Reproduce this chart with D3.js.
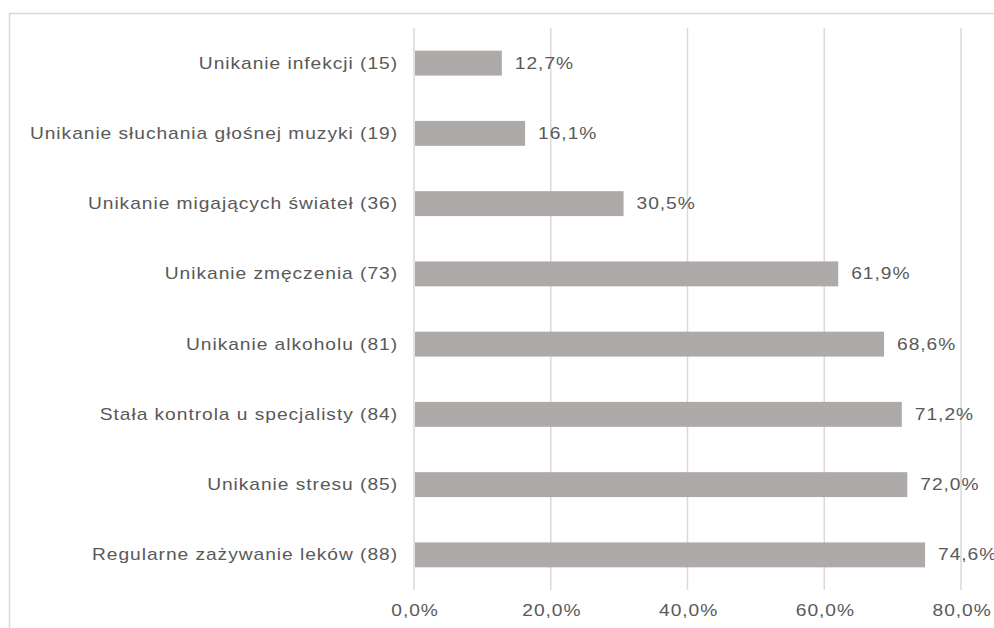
<!DOCTYPE html>
<head>
<meta charset="utf-8">
<style>
  body { margin: 0; background: #fff; }
  .axis text, .label, .value {
    font-family: "Liberation Sans", Arial, sans-serif;
    font-size: 16px;
    fill: #595959;
    letter-spacing: 0.8px;
  }
</style>
</head>
<body>
<div class="chart"></div>
<script src="https://d3js.org/d3.v7.min.js"></script>
<script>

// categories top to bottom
var categories = [
  "Unikanie infekcji (15)",
  "Unikanie słuchania głośnej muzyki (19)",
  "Unikanie migających świateł (36)",
  "Unikanie zmęczenia (73)",
  "Unikanie alkoholu (81)",
  "Stała kontrola u specjalisty (84)",
  "Unikanie stresu (85)",
  "Regularne zażywanie leków (88)"
];
var values = [12.7, 16.1, 30.5, 61.9, 68.6, 71.2, 72.0, 74.6];
var ticks = [0, 20, 40, 60, 80];

var width = 994, height = 628;
var margin = {top: 28, right: 33, bottom: 38, left: 414};
var sx = 1.2; // the source text looks stretched sideways

var svg = d3.select(".chart").append("svg")
  .attr("width", width)
  .attr("height", height);

// outer frame (runs off the right and bottom edge)
svg.append("rect")
  .attr("x", 9.5).attr("y", 13.5)
  .attr("width", width).attr("height", height)
  .attr("fill", "none")
  .attr("stroke", "#d9d9d9")
  .attr("stroke-width", 1.5);

var g = svg.append("g")
  .attr("transform", "translate(" + margin.left + "," + margin.top + ")");

var w = 961 - margin.left;
var h = 590 - margin.top;

var x = d3.scaleLinear().domain([0, 80]).range([0, w]);
var y = d3.scaleBand().domain(categories).range([0, h]).paddingInner(0.645).paddingOuter(0.3225);

var fmt = function(v) { return v.toFixed(1).replace(".", ",") + "%"; };

// gridlines
g.selectAll(".grid").data(ticks).enter().append("line")
  .attr("class", "grid")
  .attr("x1", function(d) { return x(d); })
  .attr("x2", function(d) { return x(d); })
  .attr("y1", 0).attr("y2", h)
  .attr("stroke", "#d9d9d9")
  .attr("stroke-width", 1.5);

// bars
g.selectAll(".bar").data(values).enter().append("rect")
  .attr("class", "bar")
  .attr("x", x(0) + 1)
  .attr("y", function(d, i) { return y(categories[i]); })
  .attr("width", function(d) { return x(d) - x(0); })
  .attr("height", y.bandwidth())
  .attr("fill", "#aeaaa9");

// value labels
g.selectAll(".value").data(values).enter().append("text")
  .attr("class", "value")
  .attr("transform", function(d, i) {
    return "translate(" + (x(d) + 14) + "," + (y(categories[i]) + y.bandwidth() / 2) + ") scale(" + sx + ",1)";
  })
  .attr("dy", "0.35em")
  .text(fmt);

// category labels
g.selectAll(".label").data(categories).enter().append("text")
  .attr("class", "label")
  .attr("transform", function(d) {
    return "translate(-16," + (y(d) + y.bandwidth() / 2) + ") scale(" + sx + ",1)";
  })
  .attr("dy", "0.35em")
  .attr("text-anchor", "end")
  .text(function(d) { return d; });

// x axis
var xAxis = d3.axisBottom(x).tickValues(ticks).tickSize(0).tickPadding(15)
  .tickFormat(fmt);
var ax = g.append("g")
  .attr("class", "axis")
  .attr("transform", "translate(0," + h + ")")
  .call(xAxis);
ax.select(".domain").remove();
ax.selectAll("text")
  .attr("transform", "scale(" + sx + ",1)")
  .attr("dx", 0.5);

</script>
</body>
